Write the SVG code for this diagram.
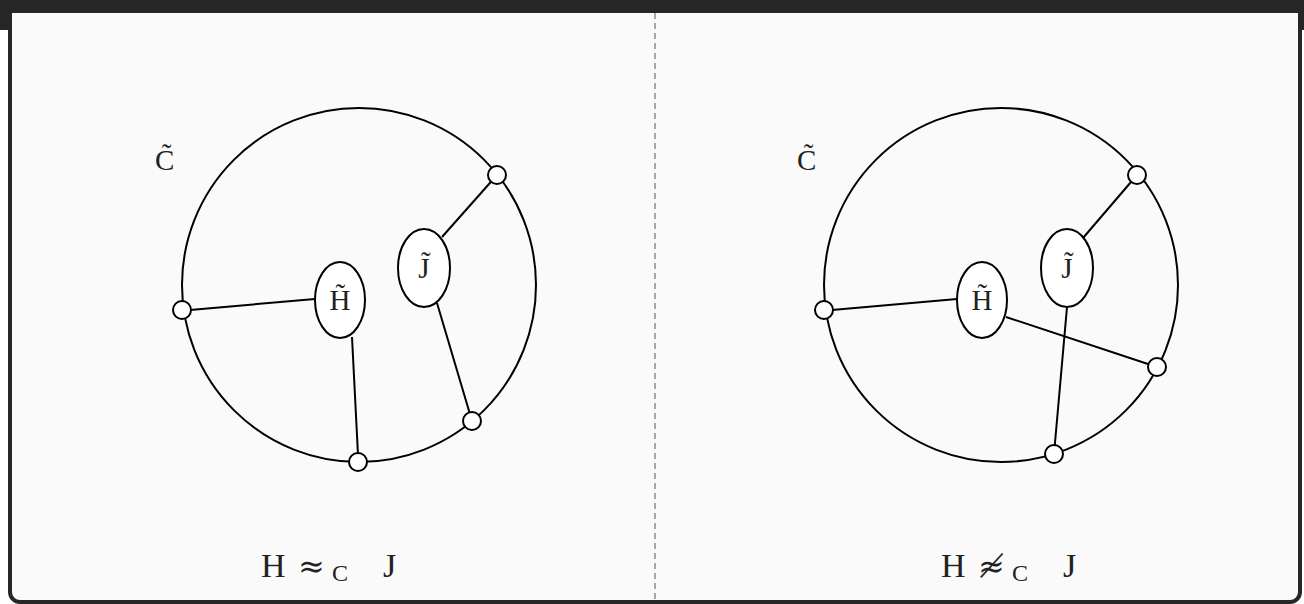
<svg xmlns="http://www.w3.org/2000/svg" width="1304" height="604" viewBox="0 0 1304 604">
<style>
.ln{stroke:#000;stroke-width:2;fill:none}
.nd{stroke:#000;stroke-width:2;fill:#fff}
.el{stroke:#000;stroke-width:2;fill:#fff}
.lb{font-family:"Liberation Serif","DejaVu Serif",serif;fill:#222}
.sym{font-family:"DejaVu Serif","Liberation Serif",serif;fill:#222}
</style>
<rect x="0" y="0" width="1304" height="604" fill="#ffffff"/>
<rect x="0" y="0" width="1304" height="30" fill="#262626"/>
<rect x="10" y="-20" width="1290" height="622" rx="10" fill="#fafafa" stroke="#262626" stroke-width="4"/>
<rect x="12" y="0" width="1286" height="13" fill="#262626"/>
<line x1="655" y1="13" x2="655" y2="600" stroke="#555" stroke-width="1" stroke-dasharray="6,4"/>

<g id="connectors">
<line class="ln" x1="190" y1="310" x2="315" y2="299"/>
<line class="ln" x1="352" y1="337" x2="358" y2="455"/>
<line class="ln" x1="442" y1="237" x2="497" y2="175"/>
<line class="ln" x1="437" y1="303" x2="472" y2="421"/>
<line class="ln" x1="832" y1="310" x2="957" y2="299"/>
<line class="ln" x1="1083" y1="238" x2="1137" y2="175"/>
<line class="ln" x1="1006" y1="317" x2="1157" y2="367"/>
<line class="ln" x1="1067" y1="307" x2="1054" y2="454"/>
</g>

<g id="left-panel">
<circle class="ln" cx="359" cy="285" r="177"/>
<text class="lb" x="155" y="170" font-size="29">C̃</text>
</g>
<g id="left-H"><ellipse class="el" cx="340" cy="300" rx="25" ry="38"/><text class="lb" x="340" y="310" font-size="29" text-anchor="middle">H̃</text></g>
<g id="left-J"><ellipse class="el" cx="424" cy="268" rx="26" ry="39"/><text class="lb" x="424" y="278" font-size="29" text-anchor="middle">J̃</text></g>
<g id="left-n1"><circle class="nd" cx="182" cy="310" r="9"/></g>
<g id="left-n2"><circle class="nd" cx="358" cy="462" r="9"/></g>
<g id="left-n3"><circle class="nd" cx="472" cy="421" r="9"/></g>
<g id="left-n4"><circle class="nd" cx="497" cy="175" r="9"/></g>
<g id="left-label">
<text class="lb" x="261" y="577" font-size="34">H</text>
<text class="sym" x="298" y="577" font-size="32">≈</text>
<text class="lb" x="332" y="581" font-size="24">C</text>
<text class="lb" x="383" y="577" font-size="34">J</text>
</g>

<g id="right-panel">
<circle class="ln" cx="1001" cy="285" r="177"/>
<text class="lb" x="797" y="170" font-size="29">C̃</text>
</g>
<g id="right-H"><ellipse class="el" cx="982" cy="300" rx="25" ry="38"/><text class="lb" x="982" y="310" font-size="29" text-anchor="middle">H̃</text></g>
<g id="right-J"><ellipse class="el" cx="1067" cy="268" rx="26" ry="39"/><text class="lb" x="1067" y="278" font-size="29" text-anchor="middle">J̃</text></g>
<g id="right-n1"><circle class="nd" cx="824" cy="310" r="9"/></g>
<g id="right-n2"><circle class="nd" cx="1137" cy="175" r="9"/></g>
<g id="right-n3"><circle class="nd" cx="1157" cy="367" r="9"/></g>
<g id="right-n4"><circle class="nd" cx="1054" cy="454" r="9"/></g>
<g id="right-label">
<text class="lb" x="941" y="577" font-size="34">H</text>
<text class="sym" x="978" y="577" font-size="32">≉</text>
<text class="lb" x="1012" y="581" font-size="24">C</text>
<text class="lb" x="1063" y="577" font-size="34">J</text>
</g>
</svg>
